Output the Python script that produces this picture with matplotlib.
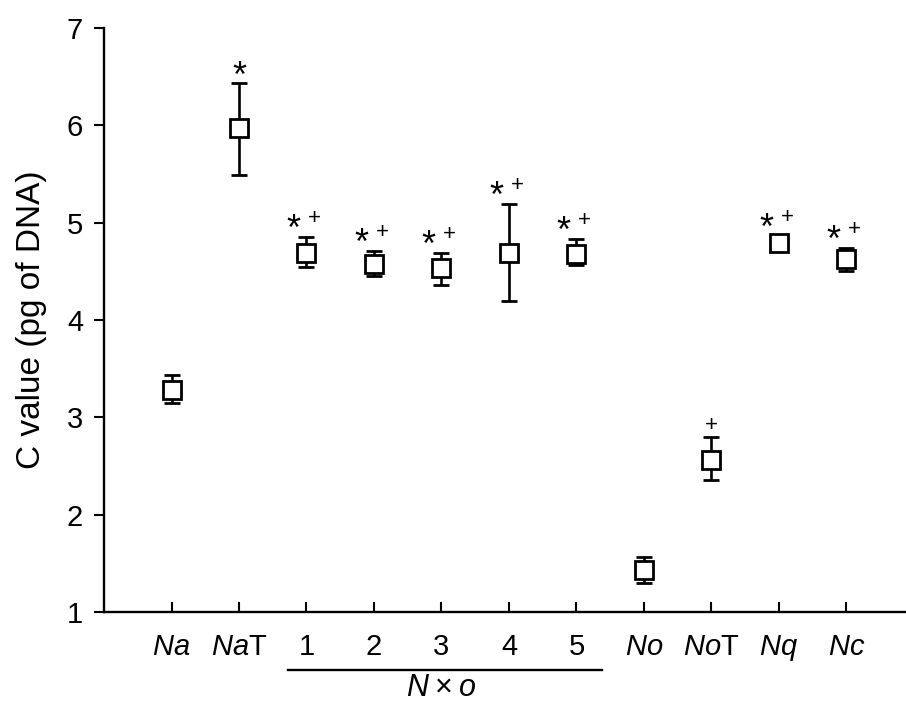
import matplotlib
matplotlib.use('Agg')
from matplotlib import pyplot as plt

plt.rcParams['font.family'] = ['Liberation Sans', 'DejaVu Sans']
plt.rcParams['mathtext.fontset'] = 'custom'
plt.rcParams['mathtext.rm'] = 'Liberation Sans'
plt.rcParams['mathtext.it'] = 'Liberation Sans:italic'

# values (pg of DNA)
labels = ['$\\it{Na}$', '$\\it{Na}$T', '1', '2', '3', '4', '5',
          '$\\it{No}$', '$\\it{No}$T', '$\\it{Nq}$', '$\\it{Nc}$']
means = [3.28, 5.97, 4.69, 4.58, 4.53, 4.69, 4.68, 1.43, 2.56, 4.79, 4.63]
upper = [3.43, 6.44, 4.85, 4.71, 4.69, 5.19, 4.83, 1.57, 2.80, 4.86, 4.74]
lower = [3.15, 5.49, 4.54, 4.45, 4.36, 4.20, 4.56, 1.30, 2.36, 4.72, 4.50]
marks = ['', '*', '*+', '*+', '*+', '*+', '*+', '', '+', '*+', '*+']
group_label = '$\\it{N}$\u2009\u00d7\u2009$\\it{o}$'

x = list(range(1, len(labels) + 1))
err = [[m - l for m, l in zip(means, lower)], [u - m for m, u in zip(means, upper)]]

fig = plt.figure(figsize=(9.06, 7.04), dpi=100)
ax = fig.add_axes([0.1148, 0.1307, 0.894, 0.8295])

ax.errorbar(x, means, yerr=err, fmt='s', ms=13, mfc='white', mec='black', mew=2.0,
            ecolor='black', elinewidth=1.9, capsize=6, capthick=1.9)

# significance symbols above the upper caps
for xi, top, m in zip(x, upper, marks):
    if m == '*+':
        ax.annotate('*', (xi, top), xytext=(-13, -3), textcoords='offset pixels',
                    ha='center', va='baseline', fontsize=26)
        ax.annotate('+', (xi, top), xytext=(8, 13), textcoords='offset pixels',
                    ha='center', va='baseline', fontsize=16)
    elif m == '*':
        ax.annotate('*', (xi, top), xytext=(0, -4), textcoords='offset pixels',
                    ha='center', va='baseline', fontsize=26)
    elif m == '+':
        ax.annotate('+', (xi, top), xytext=(0, 6), textcoords='offset pixels',
                    ha='center', va='baseline', fontsize=16)

ax.set_xlim(0, 12)
ax.set_ylim(1, 7)
ax.set_xticks(x)
ax.set_xticklabels(labels, fontsize=21)
ax.set_yticks(range(1, 8))
ax.tick_params(axis='y', direction='out', length=7, width=1.5, labelsize=21, pad=8)
ax.tick_params(axis='x', direction='in', length=7, width=1.5, pad=15)
ax.spines['top'].set_visible(False)
ax.spines['right'].set_visible(False)
ax.spines['left'].set_linewidth(1.7)
ax.spines['bottom'].set_linewidth(1.7)
ax.set_ylabel('C value (pg of DNA)', fontsize=24, labelpad=14)

# group bar under 1-5
ax_h = 0.8295 * 704
line_y = -58 / ax_h
ax.plot([2.73, 7.38], [line_y, line_y], color='black', lw=1.7, clip_on=False,
        transform=ax.get_xaxis_transform())
ax.text(5.0, line_y - 3 / ax_h, group_label, transform=ax.get_xaxis_transform(),
        ha='center', va='top', fontsize=22)

fig.savefig('out.png', dpi=100)
